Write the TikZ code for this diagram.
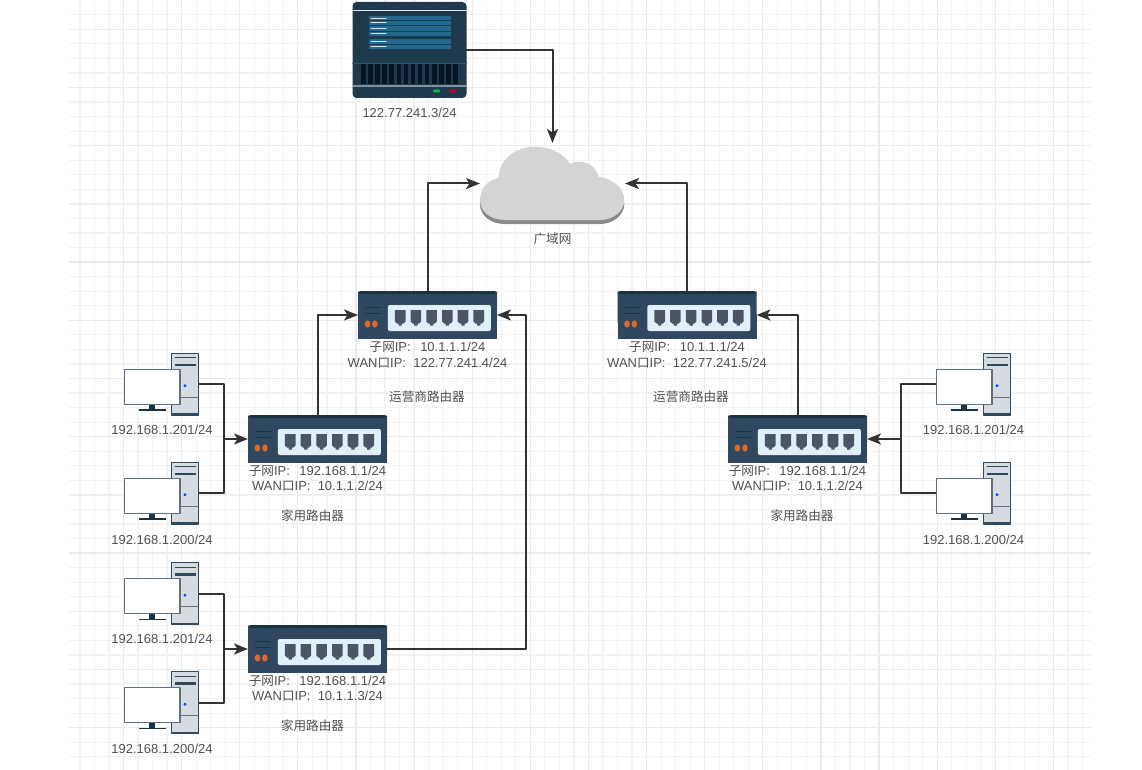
\documentclass[tikz,border=0pt]{standalone}
\usepackage{fontspec}
\setmainfont{Liberation Sans}
\newfontfamily\cjk{Noto Sans CJK SC}
\usetikzlibrary{arrows.meta}

\definecolor{gridminor}{HTML}{F3F3F3}
\definecolor{gridmajor}{HTML}{EBEBEB}
\definecolor{wire}{HTML}{333333}
\definecolor{labelgray}{HTML}{505050}
\definecolor{routerbody}{HTML}{30485F}
\definecolor{routertop}{HTML}{1A3342}
\definecolor{routerpanel}{HTML}{E0EFF8}
\definecolor{routerport}{HTML}{4A5666}
\definecolor{routerled}{HTML}{E0672C}
\definecolor{serverbody}{HTML}{1F3A4D}
\definecolor{serverrow}{HTML}{23688F}
\definecolor{servervent}{HTML}{061423}
\definecolor{towerfill}{HTML}{D5DBE0}
\definecolor{towerline}{HTML}{2F4A5F}
\definecolor{screenline}{HTML}{5F7283}
\definecolor{cloudtop}{HTML}{D3D5D4}
\definecolor{cloudside}{HTML}{8A8A8A}

\newcommand{\cn}[1]{{\cjk\fontsize{12.6}{15.5}\selectfont #1}}
\newcommand{\ipgap}{\hspace{9.5pt}}
\newcommand{\cloudshape}{(-72.5,16.5) .. controls (-72.5,5.5) and (-64.5,-3.5) .. (-54,-5.5)
  .. controls (-53.5,-23.5) and (-37.5,-36.8) .. (-17.5,-36.8)
  .. controls (-2.5,-36.8) and (10.5,-30.5) .. (17.5,-19.5)
  .. controls (21.5,-21.5) and (24.5,-21.8) .. (27.5,-21.8)
  .. controls (36.5,-21.8) and (43.5,-15.5) .. (46,-6.8)
  .. controls (60.5,-4.5) and (71.8,4.5) .. (71.8,16.5)
  .. controls (71.8,28.5) and (59.5,36.5) .. (47.5,36.5)
  -- (-47.5,36.5) .. controls (-61.5,36.5) and (-72.5,28.5) .. (-72.5,16.5) -- cycle}

\tikzset{
  iconbox/.style={inner sep=0pt, outer sep=0pt},
  routerbox/.style={iconbox, minimum width=139pt, minimum height=48pt},
  serverbox/.style={iconbox, minimum width=114pt, minimum height=96pt},
  pcbox/.style={iconbox, minimum width=75pt, minimum height=62pt},
  cloudbox/.style={iconbox, minimum width=145pt, minimum height=81pt},
  txt/.style={inner sep=0pt, text=labelgray, font=\fontsize{13}{15.5}\selectfont, align=center},
  link/.style={draw=wire, line width=2pt},
  pics/routerpic/.style={code={
    \fill[routerbody, rounded corners=3pt] (-69.5,-24) rectangle (69.5,10);
    \fill[routerbody] (-69.5,0) rectangle (69.5,24);
    \fill[routertop, rounded corners=3pt] (-69.5,-21) -- (-69.5,-24) -- (69.5,-24) -- (69.5,-21) -- cycle;
    \fill[routerpanel, rounded corners=2pt] (-39.6,-10) rectangle (63.4,16);
    \foreach \px in {-27.3,-11.6,4.1,19.8,35.5,51.2}
      \fill[routerport, shift={(\px,0)}] (-5.3,-5) -- (5.3,-5) -- (5.3,6.5) -- (3.2,8.5) -- (1.7,8.5) -- (1.7,10.7)
        -- (-1.7,10.7) -- (-1.7,8.5) -- (-3.2,8.5) -- (-5.3,6.5) -- cycle;
    \draw[routertop, line width=.7pt] (-62,-8) -- (-47,-8) (-62,-1.7) -- (-47,-1.7);
    \fill[routerled] (-60,9) ellipse (2.8 and 3.6) (-52.6,9) ellipse (2.8 and 3.6);
  }},
  pics/serverpic/.style={code={
    \fill[serverbody, rounded corners=4pt] (-57,-48) rectangle (57,48);
    \draw[white!85!serverrow, line width=1pt] (-57,-39.7) -- (57,-39.7);
    \foreach \ry/\la/\lb in {-29.5/-31.7/-27.3, -19/-21.3/-16.7, -6/-8.3/-3.7}{
      \fill[serverrow] (-40.5,\ry-4.6) rectangle (41.2,\ry+4.6);
      \draw[serverbody, line width=.5pt] (-40.5,\ry) -- (41.2,\ry);
      \draw[white!80!serverrow, line width=1pt] (-38.5,\la) -- (-23.5,\la) (-38.5,\lb) -- (-23.5,\lb);
    }
    \draw[serverrow!70!serverbody, line width=.6pt] (-57,13.3) -- (57,13.3);
    \foreach \vx in {0,...,13}
      \fill[servervent] ({-48.5+7.1*\vx},14.3) rectangle ({-44+7.1*\vx},34.3);
    \draw[gray!70!serverrow!80!white, line width=1.5pt, line cap=butt] (-57,36) -- (57,36);
    \fill[green!60!black!70!cyan] (27.2,41) ellipse (4 and 1.7);
    \fill[red!70!black!80!magenta] (43.2,41) ellipse (4 and 1.7);
  }},
  pics/pcpic/.style={code={
    \filldraw[fill=towerfill, draw=towerline, line width=1.2pt] (10.2,-30.7) rectangle (37.2,31);
    \fill[towerline] (10.2,29) rectangle (37.2,31.3);
    \draw[towerline, line width=.8pt] (13.5,-26.3) -- (34.2,-26.3);
    \draw[towerline, line width=2.8pt, line cap=butt] (13.5,-19) -- (34.2,-19);
    \draw[screenline, line width=.7pt] (10.2,13.3) -- (37.2,13.3);
    \fill[blue!70!cyan] (23.5,1.7) circle (1.6);
    \fill[routertop] (-12.2,20.3) rectangle (-6.5,25.5);
    \draw[routertop, line width=1.3pt, line cap=butt] (-22.5,26) -- (4.2,26);
    \filldraw[fill=white, draw=screenline, line width=1.2pt] (-37.2,-14.7) rectangle (18.5,20.3);
  }},
  pics/cloudpic/.style={code={
    \fill[cloudside, yshift=-4pt] \cloudshape;
    \fill[cloudtop] \cloudshape;
  }}
}

\begin{document}
\begin{tikzpicture}[x=1pt, y=-1pt, >={Stealth[length=14pt,width=11pt,inset=3.5pt]}, line cap=round, line join=round]

  \useasboundingbox (0,0) rectangle (1142,770);

  % background grid
  \foreach \i [evaluate=\i as \gx using 79.9+14.53*\i] in {0,...,69}
    \fill[gridminor] (\gx-.6,0) rectangle (\gx+.6,770);
  \foreach \i [evaluate=\i as \gy using 14.75+14.55*\i] in {0,...,51}
    \fill[gridminor] (69,\gy-.6) rectangle (1091,\gy+.6);
  \foreach \i [evaluate=\i as \gx using 123.5+58.12*\i] in {0,...,16}
    \fill[gridmajor] (\gx-.6,0) rectangle (\gx+.6,770);
  \foreach \i [evaluate=\i as \gy using 29.3+58.18*\i] in {0,...,12}
    \fill[gridmajor] (69,\gy-.6) rectangle (1091,\gy+.6);

  % server and wide area network
  \node[serverbox] (srv) at (409.5,50) {};
  \node[cloudbox] (wan) at (552.5,183.5) {};
  \node[txt] (srvip) at (409.5,113) {122.77.241.3/24};
  \node[txt] (wanname) at (552.5,239) {\cn{广域网}};

  % routers
  \node[routerbox] (isp1) at (427.5,315) {};
  \node[routerbox] (isp2) at (687,315) {};
  \node[routerbox] (home1) at (317.5,439) {};
  \node[routerbox] (home2) at (797.5,439) {};
  \node[routerbox] (home3) at (317.5,649) {};

  \node[txt] (isp1ip) at (427.5,355) {\cn{子网}IP:\ipgap 10.1.1.1/24\\WAN\cn{口}IP:\ \ 122.77.241.4/24};
  \node[txt] (isp2ip) at (687,355) {\cn{子网}IP:\ipgap 10.1.1.1/24\\WAN\cn{口}IP:\ \ 122.77.241.5/24};
  \node[txt] (home1ip) at (317.5,478.5) {\cn{子网}IP:\ipgap 192.168.1.1/24\\WAN\cn{口}IP:\ \ 10.1.1.2/24};
  \node[txt] (home2ip) at (797.5,478.5) {\cn{子网}IP:\ipgap 192.168.1.1/24\\WAN\cn{口}IP:\ \ 10.1.1.2/24};
  \node[txt] (home3ip) at (317.5,688.5) {\cn{子网}IP:\ipgap 192.168.1.1/24\\WAN\cn{口}IP:\ \ 10.1.1.3/24};

  \node[txt] (isp1name) at (427,396.5) {\cn{运营商路由器}};
  \node[txt] (isp2name) at (691,396.5) {\cn{运营商路由器}};
  \node[txt] (home1name) at (312.5,515.5) {\cn{家用路由器}};
  \node[txt] (home2name) at (802,515.5) {\cn{家用路由器}};
  \node[txt] (home3name) at (312.5,725.5) {\cn{家用路由器}};

  % hosts
  \node[pcbox] (pc1a) at (161.5,384) {};
  \node[pcbox] (pc1b) at (161.5,493) {};
  \node[pcbox] (pc2a) at (973.5,384) {};
  \node[pcbox] (pc2b) at (973.5,493) {};
  \node[pcbox] (pc3a) at (161.5,593.5) {};
  \node[pcbox] (pc3b) at (161.5,702.5) {};

  \node[txt] (pc1aip) at (162,430) {192.168.1.201/24};
  \node[txt] (pc1bip) at (162,540) {192.168.1.200/24};
  \node[txt] (pc2aip) at (973.5,430) {192.168.1.201/24};
  \node[txt] (pc2bip) at (973.5,540) {192.168.1.200/24};
  \node[txt] (pc3aip) at (162,639) {192.168.1.201/24};
  \node[txt] (pc3bip) at (162,749) {192.168.1.200/24};

  % branch points of the wiring
  \coordinate (j1) at (224,439);
  \coordinate (j2) at (901,439);
  \coordinate (j3) at (224,649);
  \coordinate (b3) at (526,480);

  % wiring
  \draw[link, ->] (srv.east) -| (wan.north);
  \draw[link, ->] (isp1.north) |- (wan.west);
  \draw[link, ->] (isp2.north) |- (wan.east);
  \draw[link, ->] (home1.north) |- (isp1.west);
  \draw[link, ->] (home2.north) |- (isp2.east);
  \draw[link, ->] (home3.east) -| (b3) |- (isp1.east);
  \draw[link] (pc1a.east) -| (j1) |- (pc1b.east);
  \draw[link, ->] (j1) -- (home1.west);
  \draw[link] (pc2a.west) -| (j2) |- (pc2b.west);
  \draw[link, ->] (j2) -- (home2.east);
  \draw[link] (pc3a.east) -| (j3) |- (pc3b.east);
  \draw[link, ->] (j3) -- (home3.west);

  % icons
  \pic at (srv) {serverpic};
  \pic at (wan) {cloudpic};
  \foreach \r in {isp1,isp2,home1,home2,home3}
    \pic at (\r) {routerpic};
  \foreach \h in {pc1a,pc1b,pc2a,pc2b,pc3a,pc3b}
    \pic at (\h) {pcpic};

\end{tikzpicture}
\end{document}
